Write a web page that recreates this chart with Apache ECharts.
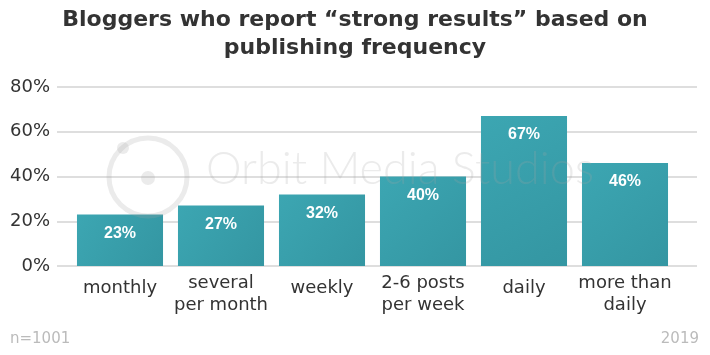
<!DOCTYPE html>
<html><head><meta charset="utf-8">
<script src="https://cdn.jsdelivr.net/npm/echarts@6/dist/echarts.min.js"></script>
<style>html,body{margin:0;padding:0;background:#fff}#c{width:710px;height:355px}</style>
</head><body><div id="c"></div>
<script>
const categories = ["monthly", "several\nper month", "weekly", "2-6 posts\nper week", "daily", "more than\ndaily"];
const values = [23, 27, 32, 40, 67, 46];
const yTicks = [0, 20, 40, 60, 80];
const titleText = "Bloggers who report \u201cstrong results\u201d based on\npublishing frequency";
const noteLeft = "n=1001";
const noteRight = "2019";

const chart = echarts.init(document.getElementById('c'), null, {renderer: 'canvas'});
const wm = 'rgba(165,165,165,0.22)';
const catData = categories.map(c => c.indexOf('\n') < 0
  ? {value: c, textStyle: {padding: [5, 0, 0, 0]}}
  : {value: c});
chart.setOption({
  animation: false,
  title: {
    text: titleText, left: 'center', top: 1,
    textStyle: {fontFamily: 'DejaVu Sans', fontWeight: 'bold', fontSize: 22, lineHeight: 28, color: '#333'}
  },
  graphic: [
    {type: 'circle', shape: {cx: 148, cy: 177, r: 39}, style: {fill: 'none', stroke: wm, lineWidth: 5}, z: 100, silent: true},
    {type: 'circle', shape: {cx: 148, cy: 178, r: 7}, style: {fill: wm}, z: 100, silent: true},
    {type: 'circle', shape: {cx: 123, cy: 148, r: 6}, style: {fill: wm}, z: 100, silent: true},
    {type: 'text', left: 206, top: 147, style: {text: 'Orbit Media Studios', fill: wm, fontFamily: 'Lato', fontWeight: 300, fontSize: 45}, z: 100, silent: true},
    {type: 'text', left: 10, top: 332, style: {text: noteLeft, fill: '#bbb', fontFamily: 'DejaVu Sans', fontSize: 15}},
    {type: 'text', right: 11, top: 332, style: {text: noteRight, fill: '#bbb', fontFamily: 'DejaVu Sans', fontSize: 15}}
  ],
  grid: [
    {left: 57, right: 13, top: 87, bottom: 89},
    {left: 69.5, right: 34.5, top: 87, bottom: 89}
  ],
  xAxis: [
    {type: 'value', gridIndex: 0, show: false, min: 0, max: 1},
    {type: 'category', gridIndex: 1, data: catData,
     axisLine: {show: false}, axisTick: {show: false},
     axisLabel: {fontFamily: 'DejaVu Sans', fontSize: 18, lineHeight: 22, color: '#333', margin: 6, interval: 0}}
  ],
  yAxis: [
    {type: 'value', gridIndex: 0, min: yTicks[0], max: yTicks[yTicks.length - 1], interval: 20,
     axisLine: {show: false}, axisTick: {show: false},
     axisLabel: {formatter: '{value}%', fontFamily: 'DejaVu Sans', fontSize: 18, color: '#333', margin: 7},
     splitLine: {lineStyle: {color: '#dedede', width: 2}}},
    {type: 'value', gridIndex: 1, min: 0, max: 80, show: false, splitLine: {show: false}}
  ],
  series: [{
    type: 'bar', xAxisIndex: 1, yAxisIndex: 1, data: values,
    barCategoryGap: '14.8%',
    itemStyle: {color: new echarts.graphic.LinearGradient(0, 0, 1, 1, [
      {offset: 0, color: '#3ca6b2'}, {offset: 1, color: '#3496a2'}])},
    label: {show: true, position: 'insideTop', distance: 11, formatter: '{c}%',
      color: '#fff', fontFamily: 'Liberation Sans', fontWeight: 'bold', fontSize: 16}
  }]
});
</script></body></html>
